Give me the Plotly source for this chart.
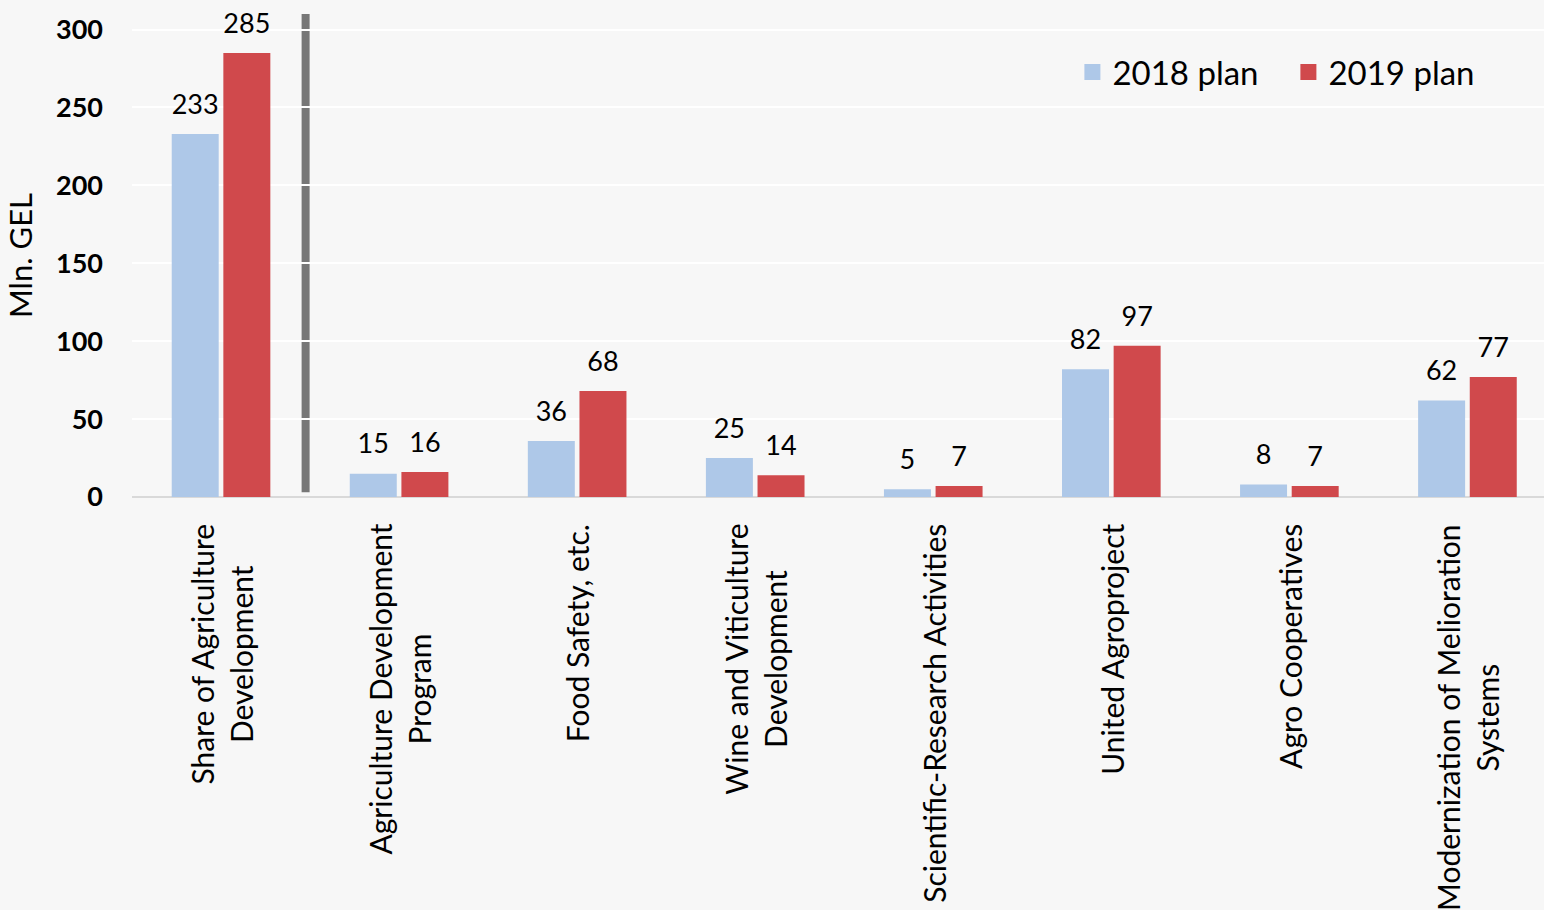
import plotly.graph_objects as go

categories = [
    "Share of Agriculture<br>Development",
    "Agriculture Development<br>Program",
    "Food Safety, etc.",
    "Wine and Viticulture<br>Development",
    "Scientific-Research Activities",
    "United Agroproject",
    "Agro Cooperatives",
    "Modernization of Melioration<br>Systems",
]
plan_2018 = [233, 15, 36, 25, 5, 82, 8, 62]
plan_2019 = [285, 16, 68, 14, 7, 97, 7, 77]
series_names = ["2018 plan", "2019 plan"]
y_ticks = [0, 50, 100, 150, 200, 250, 300]

colors = ["#aec8e8", "#d0494c"]
FONT = "Lato"

x_pos = list(range(len(categories)))

fig = go.Figure()
for name, vals, col in zip(series_names, [plan_2018, plan_2019], colors):
    fig.add_trace(
        go.Bar(
            x=x_pos,
            y=vals,
            name=name,
            offsetgroup=name,
            marker=dict(color=col, line=dict(width=0)),
            showlegend=False,
        )
    )
for name, vals, col in zip(series_names, [plan_2018, plan_2019], colors):
    # value labels, grouped like the bars; transparent marker lifts the text
    fig.add_trace(
        go.Scatter(
            x=x_pos,
            y=vals,
            offsetgroup=name,
            mode="markers+text",
            text=vals,
            textposition="top center",
            textfont=dict(size=27, color="black", family=FONT),
            marker=dict(size=20, opacity=0),
            cliponaxis=False,
            showlegend=False,
            hoverinfo="skip",
        )
    )
for name, col in zip(series_names, colors):
    # bigger legend squares than the bar default
    fig.add_trace(
        go.Scatter(
            x=[None],
            y=[None],
            mode="markers",
            marker=dict(symbol="square", size=20, color=col),
            name=name,
        )
    )

# category labels, centred multi-line, rotated
for i, cat in enumerate(categories):
    fig.add_annotation(
        x=i,
        y=0,
        xref="x",
        yref="paper",
        yanchor="top",
        xanchor="center",
        yshift=-25,
        text=cat,
        textangle=-90,
        align="center",
        showarrow=False,
        font=dict(size=30, color="black", family=FONT),
    )

# separator after the first group
fig.add_shape(
    type="line",
    x0=0.475,
    x1=0.475,
    y0=0.01,
    y1=1,
    xref="x",
    yref="paper",
    line=dict(color="#777777", width=8),
    layer="below",
)

fig.update_layout(
    width=1544,
    height=910,
    margin=dict(l=132, r=0, t=14, b=413),
    paper_bgcolor="#f7f7f7",
    plot_bgcolor="#f7f7f7",
    barmode="group",
    bargap=0.42,
    bargroupgap=0.09,
    scattermode="group",
    scattergap=0.42,
    font=dict(family=FONT, color="black"),
    legend=dict(
        orientation="h",
        x=0.666,
        y=0.88,
        xanchor="left",
        yanchor="middle",
        font=dict(size=33, family=FONT),
        bgcolor="rgba(0,0,0,0)",
        entrywidth=171,
    ),
    xaxis=dict(
        range=[-0.5, 7.43],
        showticklabels=False,
        showgrid=False,
        zeroline=False,
        showline=False,
        ticks="",
    ),
    yaxis=dict(
        range=[0, 310],
        tickvals=y_ticks,
        tickfont=dict(size=27, family=FONT, weight="bold"),
        showgrid=True,
        gridcolor="white",
        gridwidth=2,
        zeroline=True,
        zerolinecolor="#d9d9d9",
        zerolinewidth=2,
        ticklabelstandoff=28,
        title=dict(text="Mln. GEL", font=dict(size=31, family=FONT), standoff=14),
    ),
)

fig.write_html(
    "out.html",
    config={"displayModeBar": False},
    post_script="document.body.style.margin='0';",
)
